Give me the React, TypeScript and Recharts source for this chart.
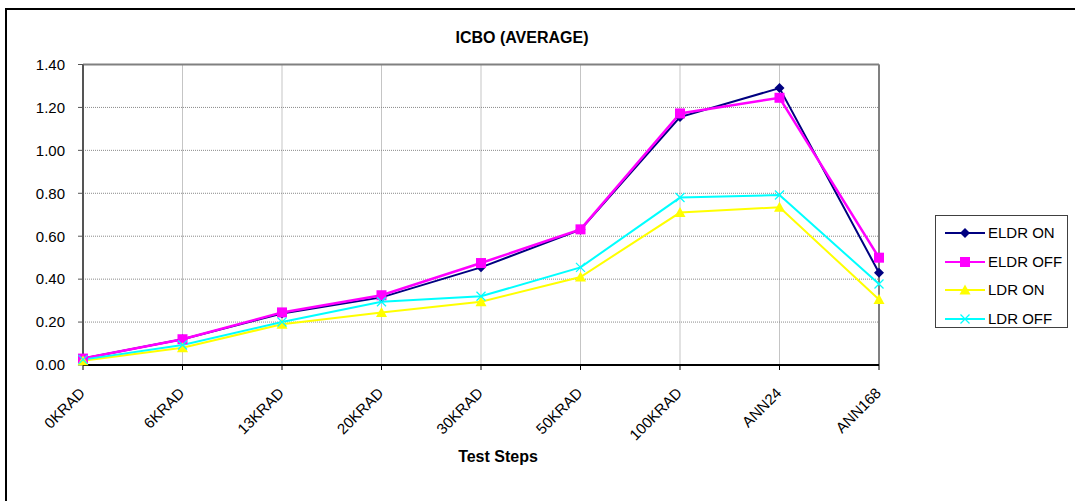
import React from 'react';
import { LineChart, Line, XAxis, YAxis, CartesianGrid, Legend, ReferenceLine } from 'recharts';

const categories = ['0KRAD', '6KRAD', '13KRAD', '20KRAD', '30KRAD', '50KRAD', '100KRAD', 'ANN24', 'ANN168'];
const eldrOn = [0.03, 0.12, 0.24, 0.315, 0.455, 0.63, 1.155, 1.29, 0.43];
const eldrOff = [0.03, 0.12, 0.245, 0.325, 0.475, 0.632, 1.172, 1.245, 0.5];
const ldrOn = [0.02, 0.08, 0.19, 0.245, 0.295, 0.41, 0.71, 0.735, 0.305];
const ldrOff = [0.025, 0.093, 0.2, 0.295, 0.32, 0.455, 0.78, 0.792, 0.377];
const yTicks = [0, 0.2, 0.4, 0.6, 0.8, 1.0, 1.2, 1.4];
const seriesNames = ['ELDR ON', 'ELDR OFF', 'LDR ON', 'LDR OFF'];

const data = categories.map((c, i) => ({
  name: c,
  eldrOn: eldrOn[i],
  eldrOff: eldrOff[i],
  ldrOn: ldrOn[i],
  ldrOff: ldrOff[i],
}));

const FONT = '"Liberation Sans", Arial, sans-serif';
const NAVY = '#000080';
const MAGENTA = '#FF00FF';
const YELLOW = '#FFFF00';
const CYAN = '#00FFFF';

const Diamond = ({ cx, cy }: any) =>
  cx == null ? null : <path d={`M${cx},${cy - 5}L${cx + 5},${cy}L${cx},${cy + 5}L${cx - 5},${cy}Z`} fill={NAVY} />;
const Square = ({ cx, cy }: any) =>
  cx == null ? null : <rect x={cx - 5} y={cy - 5} width={10} height={10} fill={MAGENTA} />;
const Triangle = ({ cx, cy }: any) =>
  cx == null ? null : <path d={`M${cx},${cy - 5.5}L${cx + 5.5},${cy + 4.5}L${cx - 5.5},${cy + 4.5}Z`} fill={YELLOW} />;
const Cross = ({ cx, cy }: any) =>
  cx == null ? null : (
    <g stroke={CYAN} strokeWidth={1.3}>
      <line x1={cx - 4.5} y1={cy - 4.5} x2={cx + 4.5} y2={cy + 4.5} />
      <line x1={cx - 4.5} y1={cy + 4.5} x2={cx + 4.5} y2={cy - 4.5} />
    </g>
  );

const markers = [Diamond, Square, Triangle, Cross];
const colors = [NAVY, MAGENTA, YELLOW, CYAN];

const XTick = ({ x, y, payload }: any) => (
  <g transform={`translate(${x + 3},${y + 22})`}>
    <text x={0} y={0} textAnchor="end" transform="rotate(-45)" fontSize={15} fontFamily={FONT} fill="#000">
      {payload.value}
    </text>
  </g>
);

const LegendBox = () => (
  <div
    style={{
      position: 'relative',
      width: 133,
      height: 113,
      border: '1px solid #404040',
      boxSizing: 'border-box',
      background: '#fff',
      fontFamily: FONT,
      fontSize: 15,
    }}
  >
    {seriesNames.map((n, i) => {
      const M = markers[i];
      const top = 17 + i * 28.5;
      return (
        <div key={n} style={{ position: 'absolute', left: 0, top: top - 8, height: 16, width: 133 }}>
          <svg width={52} height={16} style={{ position: 'absolute', left: 8, top: 0 }}>
            <line x1={1} y1={8} x2={41} y2={8} stroke={colors[i]} strokeWidth={2} />
            <M cx={21} cy={8} />
          </svg>
          <span style={{ position: 'absolute', left: 52, top: 0, lineHeight: '16px', color: '#000', whiteSpace: 'nowrap' }}>
            {n}
          </span>
        </div>
      );
    })}
  </div>
);

export default function App() {
  return (
    <div style={{ position: 'absolute', left: 0, top: 0, width: 1075, height: 501, overflow: 'hidden', background: '#fff' }}>
      <div
        style={{
          position: 'absolute',
          left: 5,
          top: 8,
          width: 1300,
          height: 700,
          border: '2px solid #000',
          boxSizing: 'border-box',
        }}
      />
      <div
        style={{
          position: 'absolute',
          left: 322,
          top: 30,
          width: 400,
          textAlign: 'center',
          fontFamily: FONT,
          fontWeight: 'bold',
          fontSize: 16,
          lineHeight: '16px',
        }}
      >
        ICBO (AVERAGE)
      </div>
      <div
        style={{
          position: 'absolute',
          left: 298,
          top: 449,
          width: 400,
          textAlign: 'center',
          fontFamily: FONT,
          fontWeight: 'bold',
          fontSize: 16,
          lineHeight: '16px',
        }}
      >
        Test Steps
      </div>
      <div style={{ position: 'absolute', left: 0, top: 0 }}>
        <LineChart width={1075} height={501} data={data} margin={{ top: 64.5, right: 196, bottom: 106, left: 23 }}>
          <CartesianGrid stroke="#8a8a8a" strokeDasharray="1 1" />
          <XAxis
            dataKey="name"
            height={30}
            interval={0}
            tick={<XTick />}
            tickSize={5}
            tickLine={{ stroke: '#000' }}
            axisLine={{ stroke: '#000', strokeWidth: 2 }}
          />
          <YAxis
            width={60}
            domain={[0, 1.4]}
            ticks={yTicks}
            interval={0}
            tickFormatter={(v: number) => v.toFixed(2)}
            tickSize={5}
            tickMargin={13}
            tick={{ fontSize: 15, fontFamily: FONT, fill: '#000' }}
            tickLine={{ stroke: '#555' }}
            axisLine={{ stroke: '#555', strokeWidth: 2 }}
          />
          <ReferenceLine y={1.4} stroke="#808080" strokeWidth={2} />
          <ReferenceLine x="ANN168" stroke="#808080" strokeWidth={2} />
          <Legend
            layout="vertical"
            align="center"
            verticalAlign="middle"
            content={<LegendBox />}
            wrapperStyle={{ position: 'absolute', left: 935, top: 215, width: 133, height: 113 }}
          />
          <Line dataKey="eldrOn" name="ELDR ON" stroke={NAVY} strokeWidth={2} dot={<Diamond />} activeDot={false} isAnimationActive={false} />
          <Line dataKey="eldrOff" name="ELDR OFF" stroke={MAGENTA} strokeWidth={2.5} dot={<Square />} activeDot={false} isAnimationActive={false} />
          <Line dataKey="ldrOn" name="LDR ON" stroke={YELLOW} strokeWidth={2} dot={<Triangle />} activeDot={false} isAnimationActive={false} />
          <Line dataKey="ldrOff" name="LDR OFF" stroke={CYAN} strokeWidth={2} dot={<Cross />} activeDot={false} isAnimationActive={false} />
        </LineChart>
      </div>
    </div>
  );
}
